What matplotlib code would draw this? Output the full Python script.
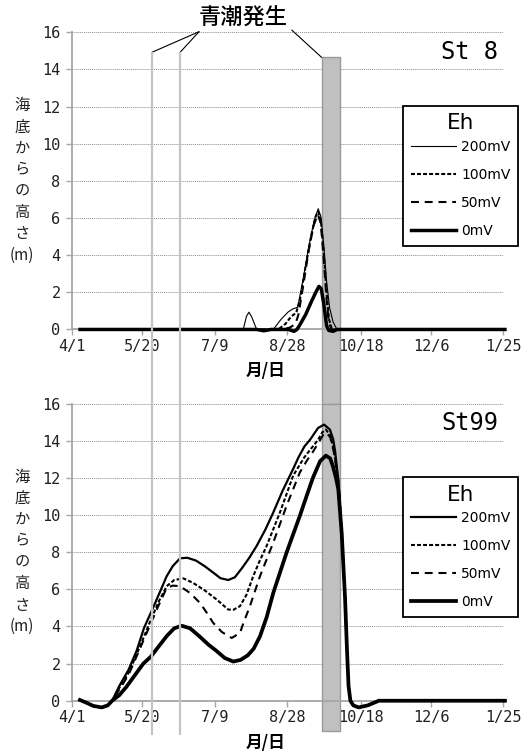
import numpy as np
import matplotlib
matplotlib.use("Agg")
import matplotlib.pyplot as plt
import matplotlib.transforms as mtransforms

plt.rcParams['font.family'] = ['Noto Sans CJK JP', 'DejaVu Sans']

# ---------------- data ----------------
tick_days = [0, 49, 99, 149, 200, 249, 299]
tick_labels = ['4/1', '5/20', '7/9', '8/28', '10/18', '12/6', '1/25']
y_ticks = [0, 2, 4, 6, 8, 10, 12, 14, 16]
series_labels = ['200mV', '100mV', '50mV', '0mV']
bloom_days = [55.4, 75.0]          # 青潮発生 (lines)
bloom_band = [173.1, 185.7]        # 青潮発生 (band)

# St 8
st8_200_day = [5.8, 118.8, 121, 122.7, 124.5, 128.1, 139.6, 145, 150, 153, 156.5, 160, 164, 168,
               170.7, 172.5, 174.5, 176.5, 178.5, 181, 183.4, 185, 300]
st8_200_val = [0, 0, 0.7, 0.93, 0.7, 0, 0, 0.55, 0.95, 1.1, 1.2, 2.6, 4.4, 5.9,
               6.5, 6.1, 4.6, 2.6, 1.2, 0.4, 0.05, 0, 0]
st8_100_day = [5.8, 143, 148, 152, 155.5, 158, 162, 166, 169, 170.7, 172.5, 174.5, 176.5, 178, 180, 181, 300]
st8_100_val = [0, 0, 0.3, 0.7, 0.9, 1.6, 3.4, 5.1, 6.1, 6.35, 5.9, 4.2, 2.0, 0.6, 0.05, 0, 0]
st8_50_day = [5.8, 146, 151, 155, 157, 160, 164, 167.5, 170.5, 172.5, 174.5, 176.5, 178, 180, 300]
st8_50_val = [0, 0, 0.1, 0.3, 0.8, 2.2, 4.2, 5.6, 6.2, 5.7, 3.8, 1.6, 0.4, 0, 0]
st8_0_day = [5.8, 128, 133, 138, 150, 154, 156, 158, 162, 166, 169, 171.2, 172.8, 174.5, 176.5,
             178, 181, 184, 300]
st8_0_val = [0, 0, -0.07, 0, 0, -0.1, 0, 0.25, 0.8, 1.5, 2.0, 2.32, 2.2, 1.4, 0.2,
             -0.05, -0.1, 0, 0]

# St99
st99_200_day = [5.7, 10, 15, 20.8, 25, 28, 33, 39.4, 45, 50, 58, 65.8, 70, 75, 80, 86, 92, 98,
                103, 108.4, 113, 118, 123, 128.1, 134, 139.6, 146, 153.4, 157, 161.2, 165,
                170.6, 174.8, 178.8, 181, 182.3, 184.6, 187, 189.3, 190.5, 191.7, 193, 195,
                198.7, 205, 212.7, 300]
st99_200_val = [0.04, -0.1, -0.28, -0.36, -0.25, 0, 0.8, 1.67, 2.7, 3.9, 5.3, 6.71, 7.25, 7.67,
                7.7, 7.55, 7.25, 6.9, 6.6, 6.5, 6.65, 7.15, 7.7, 8.34, 9.2, 10.14, 11.3, 12.49,
                13.1, 13.7, 14.05, 14.69, 14.87, 14.6, 14.1, 13.5, 11.9, 9.0, 5.5, 3.0, 0.8,
                0, -0.25, -0.36, -0.25, 0, 0]
st99_100_day = [5.7, 10, 15, 20.8, 25, 28, 33, 39.4, 45, 54.9, 60, 65.8, 71, 77.3, 84, 92, 100.4,
                108.4, 112, 116.5, 121, 125.7, 130, 135, 144.2, 153.4, 161, 166, 170.6, 173.5,
                176, 179, 181.5, 184.6, 187, 189.3, 190.5, 191.7, 193, 195, 198.7, 205, 212.7, 300]
st99_100_val = [0.04, -0.1, -0.28, -0.36, -0.25, 0, 0.7, 1.5, 2.5, 4.37, 5.3, 6.17, 6.5, 6.59,
                6.35, 5.95, 5.45, 4.91, 4.9, 5.09, 5.7, 6.71, 7.5, 8.34, 10.14, 12.13, 13.1,
                13.6, 14.05, 14.45, 14.6, 14.3, 13.5, 11.9, 9.0, 5.5, 3.0, 0.8, 0, -0.25,
                -0.36, -0.25, 0, 0]
st99_50_day = [5.7, 10, 15, 20.8, 25, 28, 33, 39.4, 45, 54.9, 60, 65.8, 70, 75, 82, 88.8, 93, 98,
               104, 110.8, 116.5, 119, 123.4, 130.4, 139.6, 148.8, 158, 163, 167, 171.7, 174,
               176, 179, 181.5, 184.6, 187, 189.3, 190.5, 191.7, 193, 195, 198.7, 205, 212.7, 300]
st99_50_val = [0.04, -0.1, -0.28, -0.36, -0.25, 0, 0.6, 1.4, 2.4, 4.19, 5.1, 6.08, 6.2, 6.17, 5.8,
               5.27, 4.8, 4.19, 3.7, 3.38, 3.65, 4.2, 5.09, 6.71, 8.52, 10.5, 12.3, 12.95, 13.4,
               14.0, 14.3, 14.45, 14.2, 13.4, 11.9, 9.0, 5.5, 3.0, 0.8, 0, -0.25, -0.36, -0.25,
               0, 0]
st99_0_day = [5.7, 10, 15, 20.8, 25, 28, 33, 38, 44, 49.6, 54.9, 60, 66, 71, 76.1, 82, 88, 95, 100,
              106, 111.9, 117, 122, 126, 130.4, 135, 139.6, 148.8, 158, 163, 167, 172, 176, 179,
              181, 183, 184.6, 187, 189.3, 190.5, 191.7, 193, 195, 198.7, 205, 212.7, 300]
st99_0_val = [0.04, -0.1, -0.28, -0.36, -0.25, 0, 0.3, 0.76, 1.4, 2.0, 2.38, 2.9, 3.5, 3.9, 4.04,
              3.9, 3.5, 3.0, 2.7, 2.3, 2.11, 2.2, 2.45, 2.8, 3.47, 4.5, 5.81, 7.98, 9.96, 11.1,
              12.0, 12.9, 13.2, 13.05, 12.6, 12.0, 11.4, 9.0, 5.5, 3.0, 0.8, 0, -0.25, -0.36,
              -0.25, 0, 0]

st8_data = [(st8_200_day, st8_200_val), (st8_100_day, st8_100_val),
            (st8_50_day, st8_50_val), (st8_0_day, st8_0_val)]
st99_data = [(st99_200_day, st99_200_val), (st99_100_day, st99_100_val),
             (st99_50_day, st99_50_val), (st99_0_day, st99_0_val)]

# ---------------- styles ----------------
styles_top = [dict(ls='-', lw=0.8), dict(ls=(0, (1.9, 1.0)), lw=1.5),
              dict(ls=(0, (3.8, 2.8)), lw=1.5), dict(ls='-', lw=2.5)]
styles_bot = [dict(ls='-', lw=1.6), dict(ls=(0, (1.9, 1.0)), lw=1.5),
              dict(ls=(0, (3.8, 2.8)), lw=1.5), dict(ls='-', lw=2.7)]

W, H = 531, 756
fig = plt.figure(figsize=(W / 100, H / 100), dpi=100)
ax1 = fig.add_axes([0.1350, 0.5642, 0.8132, 0.393])
ax2 = fig.add_axes([0.1350, 0.0731, 0.8132, 0.393])

SPINE = '#a6a6a6'
tick_font = dict(family='DejaVu Sans Mono', size=11)


def style_axes(ax, station, data, styles):
    ax.set_xlim(0, 299)
    ax.set_ylim(0, 16)
    for (d, v), lab, st in zip(data, series_labels, styles):
        ax.plot(d, v, color='black', label=lab, clip_on=False, zorder=3,
                solid_joinstyle='round', dash_capstyle='butt', **st)
    ax.set_xticks(tick_days, tick_labels)
    ax.set_yticks(y_ticks)
    for lab in ax.get_xticklabels() + ax.get_yticklabels():
        lab.set_fontfamily(tick_font['family'])
        lab.set_fontsize(tick_font['size'])
        lab.set_color('#202020')
    ax.tick_params(axis='both', color=SPINE, length=4, width=1.0)
    ax.tick_params(axis='x', pad=3)
    ax.tick_params(axis='y', pad=4)
    ax.yaxis.grid(True, linestyle=(0, (1, 1)), color='#8c8c8c', lw=0.7)
    ax.set_axisbelow(True)
    for s in ['top', 'right']:
        ax.spines[s].set_visible(False)
    for s in ['left', 'bottom']:
        ax.spines[s].set_color(SPINE)
        ax.spines[s].set_linewidth(1.3)
    ax.set_xlabel('月/日', fontsize=12, fontweight='bold')
    ax.xaxis.set_label_coords(0.448, -0.141)
    ax.xaxis.label.set_va('center')
    trans = mtransforms.blended_transform_factory(ax.transAxes, ax.transData)
    # station name
    ax.text(0.988, 14.95, station, transform=trans,
            ha='right', va='center', fontsize=17, family='DejaVu Sans Mono')
    # vertical y label
    chars = ['海', '底', 'か', 'ら', 'の', '高', 'さ', '(m)']
    for ch, yy in zip(chars, np.linspace(12.05, 4.0, len(chars))):
        ax.text(-0.1144, yy, ch, transform=trans, ha='center', va='center', fontsize=11,
                color='#202020')
    leg = ax.legend(title='Eh', loc='upper left', bbox_to_anchor=(0.7673, 0.7534),
                    borderaxespad=0, frameon=True, fancybox=False, framealpha=1,
                    edgecolor='black', prop=dict(family='DejaVu Sans', size=10),
                    title_fontproperties=dict(family='DejaVu Sans', size=15.5),
                    handlelength=3.27, handletextpad=0.36, borderpad=0.55,
                    labelspacing=1.02)
    leg.get_frame().set_linewidth(1.3)
    leg._legend_box.sep = 4.5
    return ax


style_axes(ax1, 'St 8', st8_data, styles_top)
style_axes(ax2, 'St99', st99_data, styles_bot)

# bloom indicators spanning both panels
fig.canvas.draw()
y_fig_top2 = ax2.get_position().y1
y_in_ax1 = ax1.transData.inverted().transform(fig.transFigure.transform((0, y_fig_top2)))[1]

LINEC = '#c4c4c4'
ax1.vlines(bloom_days, ymin=y_in_ax1, ymax=14.92, colors=LINEC, lw=1.6, zorder=4, clip_on=False)
ax2.vlines(bloom_days, ymin=-1.85, ymax=16, colors=LINEC, lw=1.6, zorder=4, clip_on=False)
r1 = ax1.axvspan(bloom_band[0], bloom_band[1], ymin=y_in_ax1 / 16, ymax=14.65 / 16,
                 facecolor='#c0c0c0', edgecolor='#9a9a9a', lw=1.0, zorder=2)
r1.set_clip_on(False)
r2 = ax2.axvspan(bloom_band[0], bloom_band[1], ymin=-1.64 / 16, ymax=1,
                 facecolor='#c0c0c0', edgecolor='#9a9a9a', lw=1.0, zorder=2)
r2.set_clip_on(False)

# annotation 青潮発生
fig.text(243.3 / W, 1 - 18.3 / H, '青潮発生', ha='center', va='center', fontsize=16,
         fontweight='medium')
arrow = dict(arrowstyle='-', color='black', lw=0.8, shrinkA=0, shrinkB=0)
for d in bloom_days:
    ax1.annotate('', xy=(d, 14.92), xytext=(199, H - 31.7), textcoords='figure pixels',
                 arrowprops=arrow, annotation_clip=False)
ax1.annotate('', xy=(bloom_band[0], 14.65), xytext=(291.7, H - 30), textcoords='figure pixels',
             arrowprops=arrow, annotation_clip=False)

fig.savefig('out.png', dpi=100)
